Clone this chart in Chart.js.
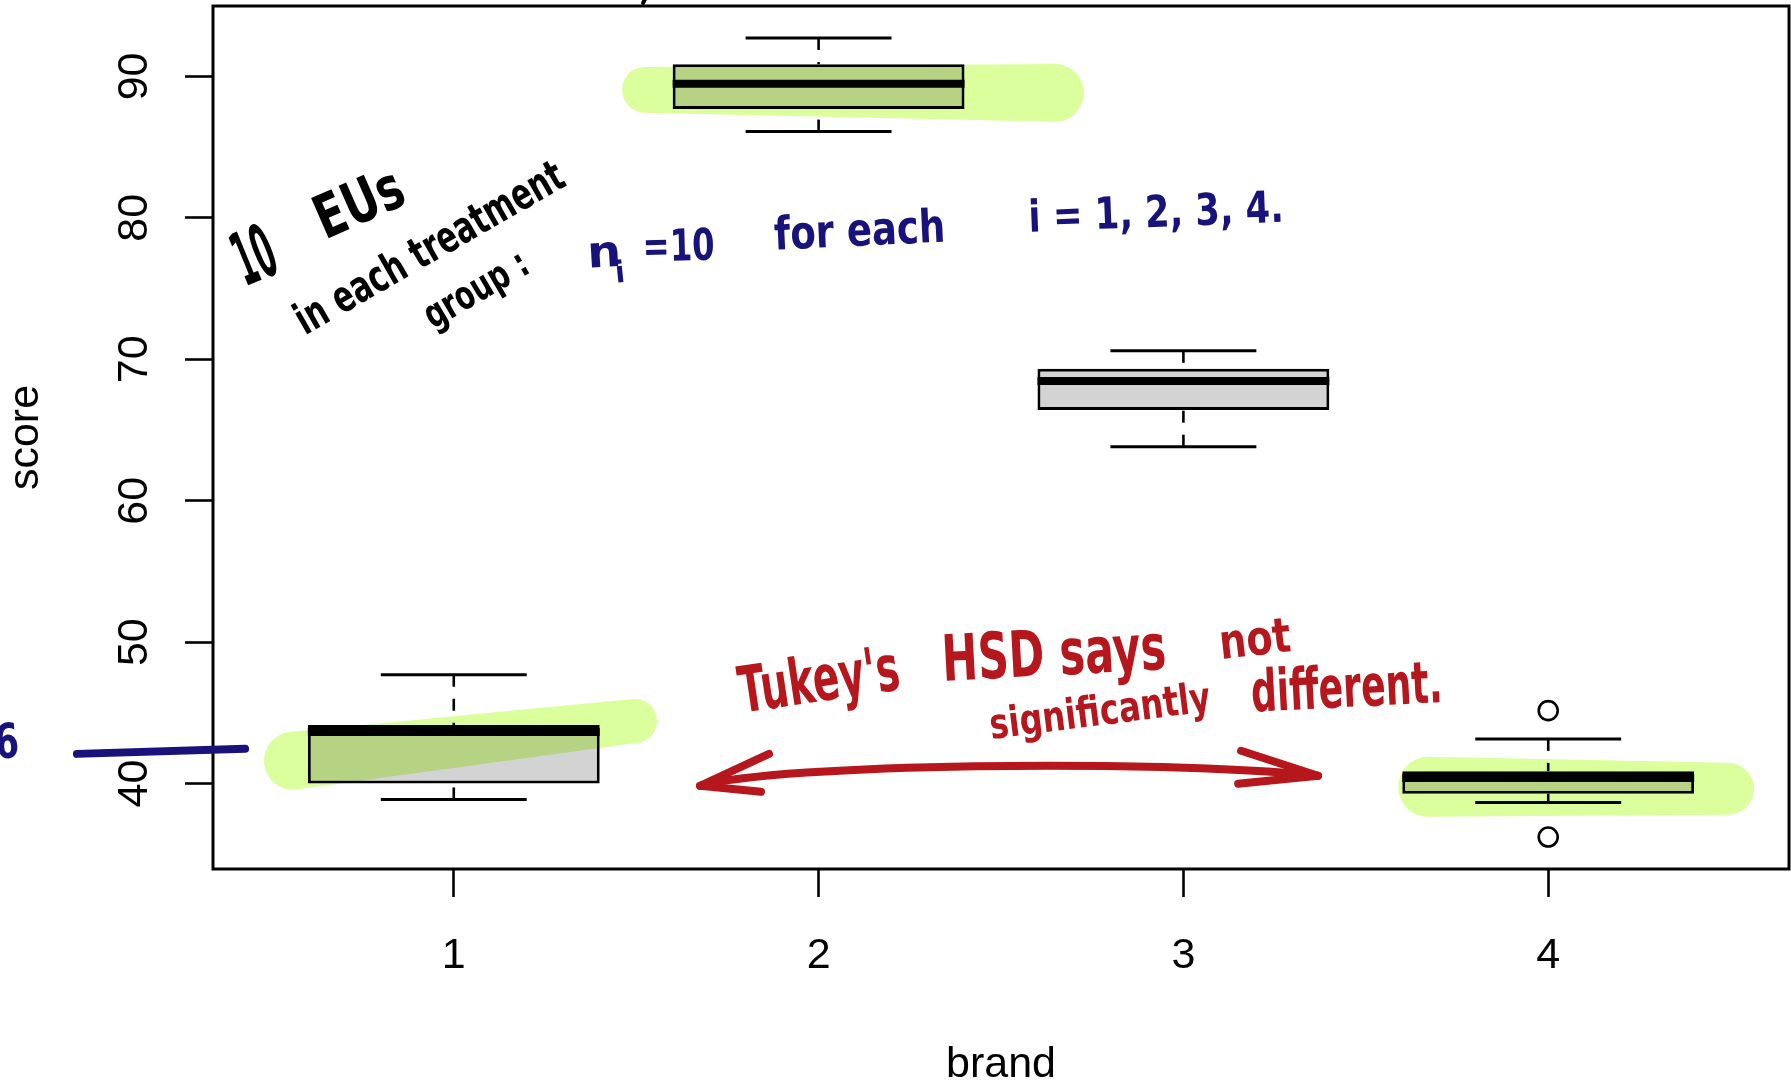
<!DOCTYPE html>
<html>
<head>
<meta charset="utf-8">
<title>score by brand</title>
<script src="https://cdn.jsdelivr.net/npm/chart.js@4.4.1/dist/chart.umd.min.js"></script>
<style>
  html, body { margin: 0; padding: 0; background: #fff; }
  canvas { display: block; }
</style>
</head>
<body>
<canvas id="boxChart" width="1791" height="1082"></canvas>
<script>
// box plot values
const brands = [1, 2, 3, 4];
const whiskerLow = [38.88, 86.1, 63.82, 38.67];
const lowerQuartile = [40.0, 87.69, 66.41, 39.28];
const medians = [43.64, 89.48, 68.46, 40.39];
const upperQuartile = [44.15, 90.86, 69.33, 40.88];
const whiskerHigh = [47.7, 92.72, 70.6, 43.16];
const outlierBrand = [4, 4];
const outlierScore = [45.16, 36.22];
const xTicks = [1, 2, 3, 4];
const yTicks = [40, 50, 60, 70, 80, 90];

const black = "#000000";
const navy = "#17137a";
const red = "#b5171c";
const marker = "#dcff9e";

// handwritten notes, positioned in (brand, score) units
const notes = [
    { text: "10", from: [0.428, 75.14], to: [0.529, 76.2], size: 74, color: black },
    { text: "EUs", from: [0.647, 78.46], to: [0.877, 81.07], size: 60, color: black },
    { text: "in each treatment", from: [0.592, 71.68], to: [1.313, 82.34], size: 44, color: black },
    { text: "group :", from: [0.943, 72.1], to: [1.214, 76.2], size: 40, color: black },
    { text: "n", from: [1.368, 76.48], to: [1.461, 76.62], size: 44, color: navy },
    { text: "i", from: [1.445, 75.42], to: [1.472, 75.49], size: 30, color: navy },
    { text: "=10", from: [1.519, 76.91], to: [1.716, 77.05], size: 44, color: navy },
    { text: "for each", from: [1.88, 77.75], to: [2.349, 78.32], size: 46, color: navy },
    { text: "i = 1, 2, 3, 4.", from: [2.577, 79.02], to: [3.276, 79.73], size: 44, color: navy },
    { text: "6", from: [-0.255, 41.75], to: [-0.189, 41.89], size: 48, color: navy },
    { text: "Tukey's", from: [1.79, 45.0], to: [2.229, 46.69], size: 64, color: red },
    { text: "HSD says", from: [2.341, 47.26], to: [2.955, 48.1], size: 64, color: red },
    { text: "not", from: [3.103, 48.81], to: [3.298, 49.37], size: 48, color: red },
    { text: "significantly", from: [2.473, 43.16], to: [3.078, 45.14], size: 42, color: red },
    { text: "different.", from: [3.188, 45.07], to: [3.712, 45.77], size: 58, color: red }
];

// highlighter strokes: ends in (brand, score), heights in score units
const highlights = [
    { from: [1.524, 89.05], to: [2.648, 88.84], h1: 3.25, h2: 4.09 },
    { from: [0.559, 41.61], to: [1.497, 44.43], h1: 4.09, h2: 3.11 },
    { from: [3.671, 39.77], to: [4.493, 39.63], h1: 4.24, h2: 3.67 }
];

const arrowShaft = [[1.675, 39.84], [1.894, 41.4], [2.908, 41.75], [3.369, 40.55]];
const arrowLeftHead = [[1.864, 42.1], [1.675, 39.84], [1.842, 39.42]];
const arrowRightHead = [[3.158, 42.32], [3.369, 40.55], [3.15, 39.99]];
const navyDash = [[-0.033, 42.1], [0.428, 42.46]];
const topMark = [[1.525, 95.5], [1.519, 95.2]];

// R style limits: data range plus 4%
const allScores = whiskerLow.concat(whiskerHigh, outlierScore);
const yLo = Math.min(...allScores), yHi = Math.max(...allScores);
const yPad = (yHi - yLo) * 0.04;
const xPad = (brands.length) * 0.04;

Chart.defaults.font.family = '"Liberation Sans", Arial, Helvetica, sans-serif';
Chart.defaults.color = "#000";

function line(ctx, x1, y1, x2, y2) {
    ctx.beginPath();
    ctx.moveTo(x1, y1);
    ctx.lineTo(x2, y2);
    ctx.stroke();
}

function blob(ctx, x1, y1, r1, x2, y2, r2) {
    const a = Math.atan2(y2 - y1, x2 - x1);
    ctx.beginPath();
    ctx.arc(x1, y1, r1, a + Math.PI / 2, a + Math.PI * 1.5);
    ctx.arc(x2, y2, r2, a - Math.PI / 2, a + Math.PI / 2);
    ctx.closePath();
    ctx.fill();
}

function handText(ctx, note, px) {
    const p1 = px(note.from), p2 = px(note.to);
    const len = Math.hypot(p2[0] - p1[0], p2[1] - p1[1]);
    ctx.save();
    ctx.font = "bold " + note.size + 'px "DejaVu Sans Condensed", "DejaVu Sans", sans-serif';
    const w = ctx.measureText(note.text).width;
    ctx.translate(p1[0], p1[1]);
    ctx.rotate(Math.atan2(p2[1] - p1[1], p2[0] - p1[0]));
    ctx.scale(len / w, 1);
    ctx.fillStyle = note.color;
    ctx.textAlign = "left";
    ctx.textBaseline = "alphabetic";
    ctx.fillText(note.text, 0, 0);
    ctx.restore();
}

const boxPlotPlugin = {
    id: "boxPlot",
    afterDatasetsDraw(chart) {
        const ctx = chart.ctx;
        const xs = chart.scales.x, ys = chart.scales.y;
        const area = chart.chartArea;
        const meta = chart.getDatasetMeta(0);
        const px = (p) => [xs.getPixelForValue(p[0]), ys.getPixelForValue(p[1])];

        ctx.save();
        ctx.strokeStyle = black;
        ctx.lineCap = "butt";
        brands.forEach((b, i) => {
            const cx = xs.getPixelForValue(b);
            const half = meta.data[i].width / 2;
            const staple = half / 2;
            const yHigh = ys.getPixelForValue(whiskerHigh[i]);
            const yLow = ys.getPixelForValue(whiskerLow[i]);

            ctx.lineWidth = 2.6;
            ctx.setLineDash([12, 12]);
            line(ctx, cx, yHigh, cx, ys.getPixelForValue(upperQuartile[i]));
            line(ctx, cx, yLow, cx, ys.getPixelForValue(lowerQuartile[i]));
            ctx.setLineDash([]);

            ctx.lineWidth = 3;
            line(ctx, cx - staple, yHigh, cx + staple, yHigh);
            line(ctx, cx - staple, yLow, cx + staple, yLow);

            const ym = ys.getPixelForValue(medians[i]);
            ctx.lineWidth = 8;
            line(ctx, cx - half, ym, cx + half, ym);
        });

        // plot frame
        ctx.lineWidth = 3;
        ctx.strokeRect(area.left, area.top, area.right - area.left, area.bottom - area.top);

        // y tick labels, turned like R does
        ctx.font = '43px "Liberation Sans", Arial, sans-serif';
        ctx.fillStyle = black;
        ctx.textAlign = "center";
        ctx.textBaseline = "alphabetic";
        yTicks.forEach((v) => {
            ctx.save();
            ctx.translate(area.left - 66, ys.getPixelForValue(v));
            ctx.rotate(-Math.PI / 2);
            ctx.fillText(String(v), 0, 0);
            ctx.restore();
        });

        // highlighter
        ctx.globalCompositeOperation = "multiply";
        ctx.fillStyle = marker;
        highlights.forEach((h) => {
            const a = px(h.from), c = px(h.to);
            const r1 = (ys.getPixelForValue(0) - ys.getPixelForValue(h.h1)) / 2;
            const r2 = (ys.getPixelForValue(0) - ys.getPixelForValue(h.h2)) / 2;
            blob(ctx, a[0], a[1], r1, c[0], c[1], r2);
        });
        ctx.globalCompositeOperation = "source-over";

        // ink
        notes.forEach((n) => handText(ctx, n, px));

        ctx.lineCap = "round";
        ctx.lineJoin = "round";
        ctx.strokeStyle = red;
        ctx.lineWidth = 8;
        const s = arrowShaft.map(px);
        ctx.beginPath();
        ctx.moveTo(s[0][0], s[0][1]);
        ctx.bezierCurveTo(s[1][0], s[1][1], s[2][0], s[2][1], s[3][0], s[3][1]);
        ctx.stroke();
        [arrowLeftHead, arrowRightHead].forEach((head) => {
            const p = head.map(px);
            ctx.beginPath();
            ctx.moveTo(p[0][0], p[0][1]);
            ctx.lineTo(p[1][0], p[1][1]);
            ctx.lineTo(p[2][0], p[2][1]);
            ctx.stroke();
        });

        ctx.strokeStyle = navy;
        ctx.lineWidth = 8;
        let d = navyDash.map(px);
        line(ctx, d[0][0], d[0][1], d[1][0], d[1][1]);

        ctx.strokeStyle = black;
        ctx.lineWidth = 4;
        d = topMark.map(px);
        line(ctx, d[0][0], d[0][1], d[1][0], d[1][1]);
        ctx.restore();
    }
};

const ctx = document.getElementById("boxChart").getContext("2d");
const boxChart = new Chart(ctx, {
    type: "bar",
    data: {
        datasets: [
            {
                label: "score",
                data: brands.map((b, i) => ({ x: b, y: [lowerQuartile[i], upperQuartile[i]] })),
                backgroundColor: "#d3d3d3",
                borderColor: black,
                borderWidth: 3,
                borderSkipped: false,
                barPercentage: 1,
                categoryPercentage: 0.8,
            },
            {
                type: "scatter",
                label: "outliers",
                data: outlierBrand.map((b, i) => ({ x: b, y: outlierScore[i] })),
                pointStyle: "circle",
                pointRadius: 9.5,
                borderWidth: 2.6,
                borderColor: black,
                backgroundColor: "rgba(0,0,0,0)",
            },
        ],
    },
    options: {
        responsive: false,
        animation: false,
        events: [],
        devicePixelRatio: 1,
        layout: { autoPadding: false, padding: { top: 6, right: 2, left: 0, bottom: 0 } },
        plugins: {
            legend: { display: false },
            tooltip: { enabled: false },
        },
        scales: {
            x: {
                type: "linear",
                offset: false,
                min: 1 - 0.5 - xPad,
                max: brands.length + 0.5 + xPad,
                afterBuildTicks: (scale) => { scale.ticks = xTicks.map((v) => ({ value: v })); },
                afterFit: (scale) => { scale.height = 213; },
                grid: {
                    offset: false,
                    drawOnChartArea: false,
                    drawTicks: true,
                    tickLength: 28,
                    tickWidth: 2.6,
                    tickColor: black,
                },
                border: { display: false },
                ticks: {
                    font: { size: 43 },
                    color: black,
                    padding: 33,
                    maxRotation: 0,
                    autoSkip: false,
                },
                title: {
                    display: true,
                    text: "brand",
                    font: { size: 43, lineHeight: 0.8 },
                    padding: 0,
                    color: black,
                },
            },
            y: {
                type: "linear",
                min: yLo - yPad,
                max: yHi + yPad,
                afterBuildTicks: (scale) => { scale.ticks = yTicks.map((v) => ({ value: v })); },
                afterFit: (scale) => { scale.width = 213; },
                grid: {
                    drawOnChartArea: false,
                    drawTicks: true,
                    tickLength: 28,
                    tickWidth: 2.6,
                    tickColor: black,
                },
                border: { display: false },
                ticks: { display: false },
                title: {
                    display: true,
                    text: "score",
                    font: { size: 43 },
                    padding: 0,
                    color: black,
                },
            },
        },
    },
    plugins: [boxPlotPlugin],
});
</script>
</body>
</html>
